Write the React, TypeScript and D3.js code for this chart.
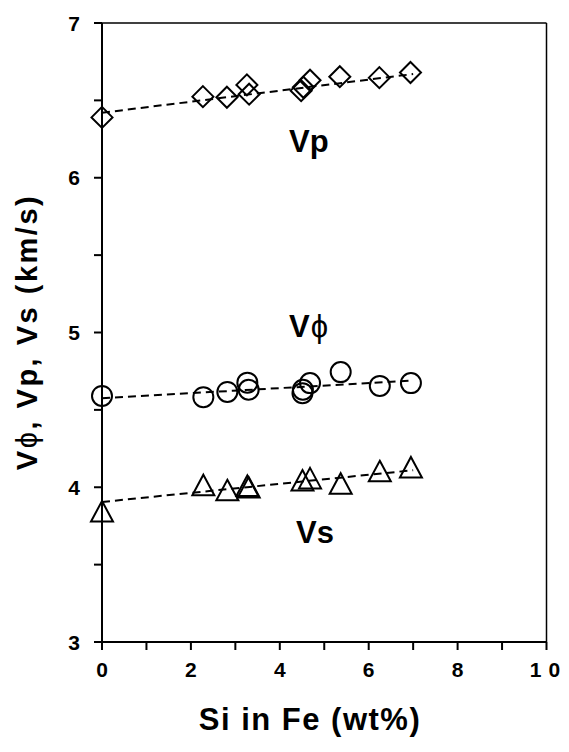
import React from 'react';
import * as d3 from 'd3';

// Si content (wt%) and velocities (km/s)
const siVp = [0, 2.27, 2.81, 3.26, 3.31, 4.48, 4.53, 4.68, 5.35, 6.24, 6.94];
const vp = [6.39, 6.524, 6.52, 6.60, 6.54, 6.563, 6.585, 6.63, 6.653, 6.647, 6.68];

const siVphi = [0, 2.28, 2.82, 3.27, 3.30, 4.51, 4.52, 4.68, 5.37, 6.25, 6.95];
const vphi = [4.59, 4.582, 4.616, 4.676, 4.63, 4.608, 4.63, 4.673, 4.744, 4.655, 4.673];

const siVs = [0, 2.28, 2.82, 3.27, 3.30, 4.51, 4.68, 5.37, 6.25, 6.95];
const vs = [3.84, 4.01, 3.977, 4.005, 3.995, 4.04, 4.054, 4.02, 4.10, 4.125];

// dashed fit lines, end points [si, v]
const fitVp = [[0, 6.42], [7, 6.67]];
const fitVphi = [[0, 4.575], [7, 4.69]];
const fitVs = [[0, 3.905], [7, 4.11]];

const xTickLabels = [0, 2, 4, 6, 8, 10];
const yTickLabels = [3, 4, 5, 6, 7];

const width = 569;
const height = 752;
const left = 102;
const right = 546.5;
const top = 23;
const bottom = 642;

const font = "'Liberation Sans', Arial, sans-serif";

export default function App() {
  const x = d3.scaleLinear([0, 10], [left, right]);
  const y = d3.scaleLinear([3, 7], [bottom, top]);
  const line = d3.line<number[]>().x(d => x(d[0])).y(d => y(d[1]));

  const xMinor = d3.range(0, 11, 1);
  const yMinor = d3.range(3, 7.01, 0.5);

  const diamond = (cx: number, cy: number) =>
    `M${cx},${cy - 10.5}L${cx + 10.5},${cy}L${cx},${cy + 10.5}L${cx - 10.5},${cy}Z`;
  const triangle = (cx: number, cy: number) =>
    `M${cx},${cy - 11}L${cx + 11},${cy + 9.5}L${cx - 11},${cy + 9.5}Z`;

  return (
    <svg width={width} height={height} style={{ position: 'absolute', left: 0, top: 0 }}>
      <rect width={width} height={height} fill="#fff" />

      {/* frame */}
      <line x1={left} x2={right} y1={top} y2={top} stroke="#000" strokeWidth={1.5} />
      <line x1={right} x2={right} y1={top} y2={bottom} stroke="#000" strokeWidth={1.5} />
      <line x1={left} x2={left} y1={top} y2={bottom} stroke="#000" strokeWidth={2} />
      <line x1={left} x2={right} y1={bottom} y2={bottom} stroke="#000" strokeWidth={2} />

      {yMinor.map(v => (
        <line key={'yt' + v} x1={left - 8} x2={left} y1={y(v)} y2={y(v)} stroke="#000" strokeWidth={2} />
      ))}
      {xMinor.map(v => (
        <line key={'xt' + v} x1={x(v)} x2={x(v)} y1={bottom} y2={bottom + 8} stroke="#000" strokeWidth={2} />
      ))}

      {yTickLabels.map(v => (
        <text key={'yl' + v} x={80} y={y(v)} dy="0.36em" textAnchor="end"
          fontFamily={font} fontWeight="bold" fontSize={21}>{v}</text>
      ))}
      {xTickLabels.map(v => (
        <text key={'xl' + v} x={x(v) + (v === 10 ? 2 : 0)} y={677} textAnchor="middle"
          fontFamily={font} fontWeight="bold" fontSize={21}
          letterSpacing={v === 10 ? 7 : 0}>{v}</text>
      ))}

      {/* fit lines */}
      {[fitVp, fitVphi, fitVs].map((f, i) => (
        <path key={'f' + i} d={line(f) || ''} fill="none" stroke="#000" strokeWidth={2} strokeDasharray="8,5" />
      ))}

      {siVp.map((s, i) => (
        <path key={'d' + i} d={diamond(x(s), y(vp[i]))} fill="none" stroke="#000" strokeWidth={2} />
      ))}
      {siVphi.map((s, i) => (
        <circle key={'c' + i} cx={x(s)} cy={y(vphi[i])} r={10} fill="none" stroke="#000" strokeWidth={2} />
      ))}
      {siVs.map((s, i) => (
        <path key={'t' + i} d={triangle(x(s), y(vs[i]))} fill="none" stroke="#000" strokeWidth={2} />
      ))}

      {/* series labels */}
      <text x={289} y={152} fontFamily={font} fontWeight="bold" fontSize={31}>Vp</text>
      <text x={289} y={337} fontFamily={font} fontWeight="bold" fontSize={31}>
        V<tspan fontWeight="normal" dx={1}>ϕ</tspan>
      </text>
      <text x={296} y={543} fontFamily={font} fontWeight="bold" fontSize={31}>Vs</text>

      {/* axis titles */}
      <text x={310} y={730} textAnchor="middle" fontFamily={font} fontWeight="bold" fontSize={31}
        letterSpacing={1.5}>Si in Fe (wt%)</text>
      <text transform={`translate(37,332) rotate(-90)`} textAnchor="middle" fontFamily={font}
        fontWeight="bold" fontSize={29} letterSpacing={2.5} style={{ whiteSpace: 'pre' }}>
        V<tspan fontWeight="normal">ϕ</tspan>, Vp, Vs (km/s)
      </text>
    </svg>
  );
}
